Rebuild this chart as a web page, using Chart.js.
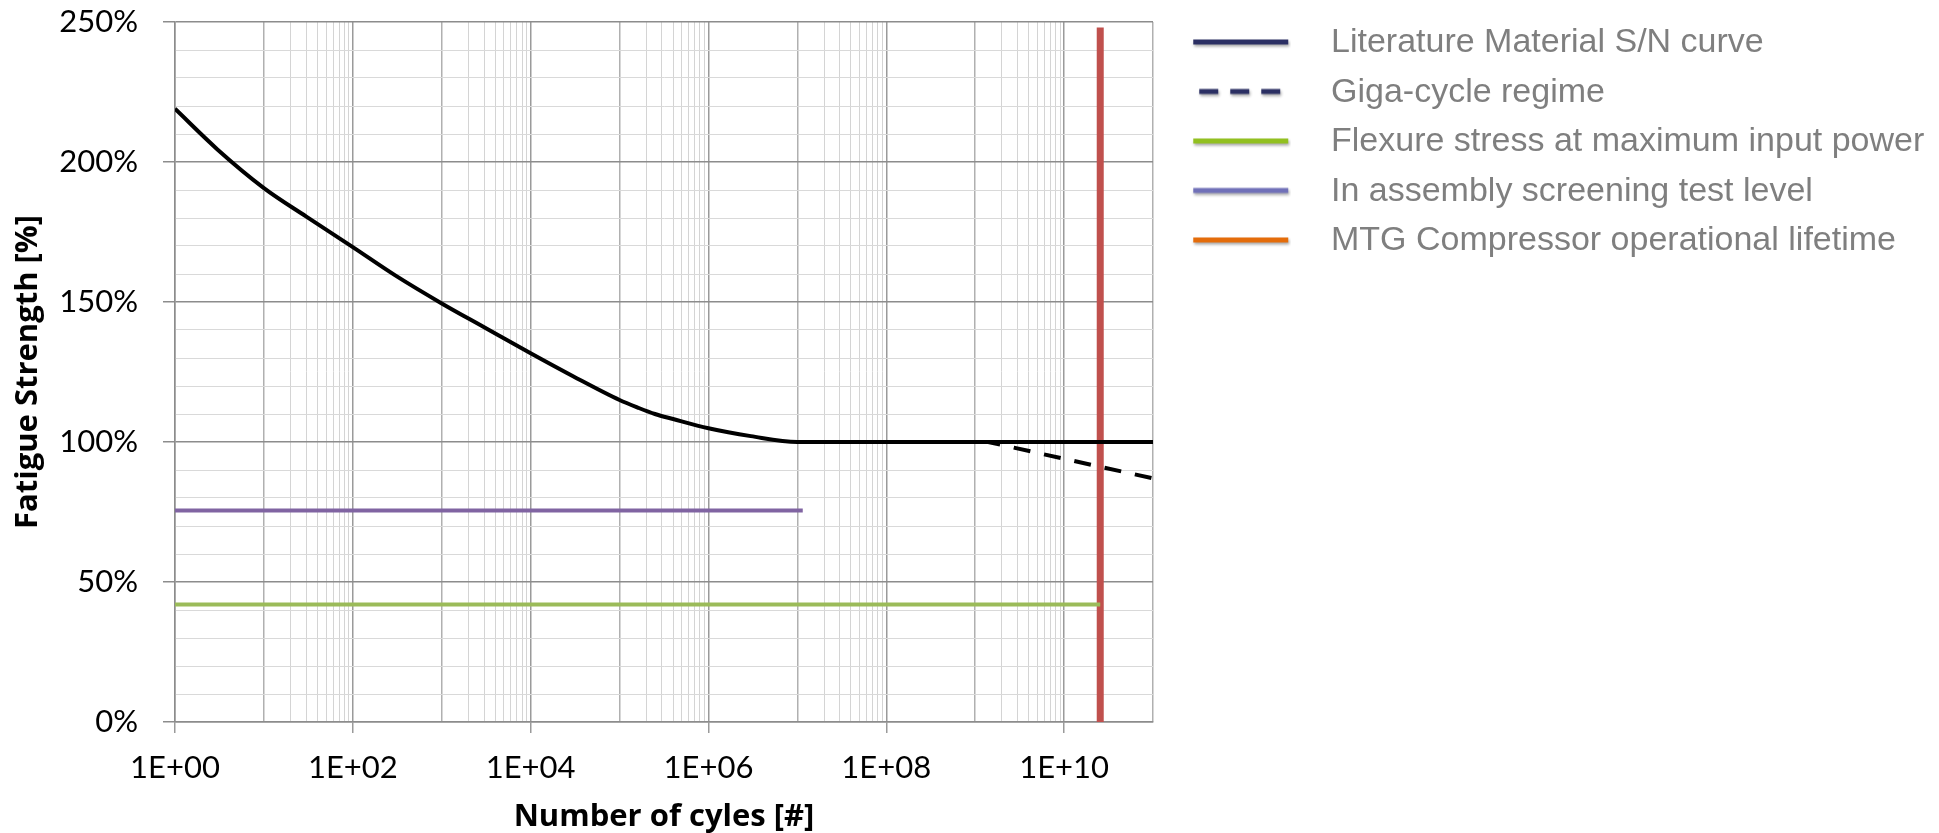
<!DOCTYPE html>
<html>
<head>
<meta charset="utf-8">
<script src="https://cdn.jsdelivr.net/npm/chart.js@4.4.1/dist/chart.umd.min.js"></script>
<style>
  body { margin: 0; background: #fff; }
  #wrap { width: 1939px; height: 833px; }
</style>
</head>
<body>
<div id="wrap"><canvas id="fatigueChart"></canvas></div>
<script>
// S/N curve (cycles -> % fatigue strength)
const snCycles = [1, 3, 10, 30, 100, 300, 1e3, 3e3, 1e4, 3e4, 1e5, 1.6e5, 2.5e5, 4e5, 1e6, 3e6, 1e7, 1e11];
const snStrength = [219, 204.5, 190.7, 180.5, 169.6, 159.5, 149.5, 141, 131.7, 123.5, 115, 112.3, 110, 108.2, 104.9, 102.1, 100, 100];

const gigaCycles = [1e7, 1.4e9, 1e11];
const gigaStrength = [100, 100, 87];

const flexureCycles = [1, 2.55e10];
const flexureStrength = [42, 42];

const screeningCycles = [1, 1.15e7];
const screeningStrength = [75.5, 75.5];

const lifetimeCycles = [2.55e10, 2.55e10];
const lifetimeStrength = [0, 248];

const legendNames = [
  "Literature Material S/N curve",
  "Giga-cycle regime",
  "Flexure stress at maximum input power",
  "In assembly screening test level",
  "MTG Compressor operational lifetime"
];
const legendColors = ["#2b2f63", "#2b2f63", "#92c020", "#7070b8", "#e46c0a"];

// x ticks: decades, plus 2..9 x 10^n in the odd decades (that is where the picture has minor lines)
const xTicks = [];
for (let n = 0; n <= 10; n++) {
  xTicks.push(Math.pow(10, n));
  if (n % 2 === 1) {
    for (let m = 2; m <= 9; m++) xTicks.push(m * Math.pow(10, n));
  }
}
xTicks.push(1e11);

function pts(xs, ys) {
  return xs.map((x, i) => ({ x: x, y: ys[i] }));
}

function decade(v) {
  const e = Math.log10(v);
  return Math.abs(e - Math.round(e)) < 1e-9 ? Math.round(e) : null;
}

function makeSwatch(color, dashed) {
  const c = document.createElement("canvas");
  c.width = 100;
  c.height = 16;
  const g = c.getContext("2d");
  g.shadowColor = "rgba(0,0,0,0.35)";
  g.shadowBlur = 3;
  g.shadowOffsetX = 1;
  g.shadowOffsetY = 2;
  g.strokeStyle = color;
  g.lineWidth = 5;
  g.beginPath();
  if (dashed) {
    g.setLineDash([19, 12]);
    g.moveTo(8, 7);
    g.lineTo(89, 7);
  } else {
    g.moveTo(2, 7);
    g.lineTo(97, 7);
  }
  g.stroke();
  return c;
}

const ctx = document.getElementById("fatigueChart");
const fatigueChart = new Chart(ctx, {
  type: "scatter",
  data: {
    datasets: [
      {
        label: legendNames[0],
        data: pts(snCycles, snStrength),
        showLine: true,
        borderColor: "#000000",
        borderWidth: 4,
        cubicInterpolationMode: "monotone",
        pointRadius: 0,
      },
      {
        label: legendNames[1],
        data: pts(gigaCycles, gigaStrength),
        showLine: true,
        borderColor: "#000000",
        borderWidth: 4,
        borderDash: [17, 14],
        pointRadius: 0,
      },
      {
        label: legendNames[2],
        data: pts(flexureCycles, flexureStrength),
        showLine: true,
        borderColor: "#9bbb59",
        borderWidth: 4,
        pointRadius: 0,
      },
      {
        label: legendNames[3],
        data: pts(screeningCycles, screeningStrength),
        showLine: true,
        borderColor: "#8064a2",
        borderWidth: 4,
        pointRadius: 0,
      },
      {
        label: legendNames[4],
        data: pts(lifetimeCycles, lifetimeStrength),
        showLine: true,
        borderColor: "#c0504d",
        borderWidth: 7,
        borderCapStyle: "butt",
        pointRadius: 0,
      },
    ],
  },
  options: {
    responsive: true,
    maintainAspectRatio: false,
    animation: false,
    layout: { padding: { top: 10.5, right: 6, bottom: 0, left: 0 } },
    plugins: {
      tooltip: { enabled: false },
      legend: {
        position: "right",
        align: "start",
        maxWidth: 780,
        labels: {
          usePointStyle: true,
          pointStyleWidth: 145.5,
          padding: 15.5,
          color: "#7f7f7f",
          font: { family: "'Liberation Sans', Arial, sans-serif", size: 34 },
          generateLabels: (chart) =>
            chart.data.datasets.map((ds, i) => ({
              text: ds.label,
              fillStyle: legendColors[i],
              strokeStyle: legendColors[i],
              lineWidth: 0,
              pointStyle: makeSwatch(legendColors[i], i === 1),
              fontColor: "#7f7f7f",
              hidden: false,
              datasetIndex: i,
            })),
        },
      },
    },
    scales: {
      x: {
        type: "logarithmic",
        min: 1,
        max: 1e11,
        afterBuildTicks: (scale) => {
          scale.ticks = xTicks.map((v) => ({ value: v }));
        },
        afterFit: (scale) => {
          scale.height = 111;
        },
        ticks: {
          autoSkip: false,
          maxRotation: 0,
          padding: 16,
          color: "#000000",
          font: { family: "Lato, sans-serif", size: 31, lineHeight: 1.2 },
          callback: (v) => {
            const e = decade(v);
            if (e === null || e % 2 !== 0 || e > 10) return "";
            return "1E+" + String(e).padStart(2, "0");
          },
        },
        grid: {
          tickLength: 11,
          color: (c) => {
            const e = decade(c.tick.value);
            if (e === null) return "#d4d4d4";
            return e % 2 === 0 ? "#9a9a9a" : "#b0b0b0";
          },
          lineWidth: (c) => (decade(c.tick.value) === null ? 1 : 1.5),
          tickColor: (c) => {
            const e = decade(c.tick.value);
            return e !== null && e % 2 === 0 && e <= 10 ? "#9a9a9a" : "rgba(0,0,0,0)";
          },
        },
        border: { color: "#8c8c8c", width: 1.5 },
        title: {
          display: true,
          text: "Number of cyles [#]",
          color: "#000000",
          padding: { top: 19, bottom: 0 },
          font: { family: "'Open Sans', sans-serif", size: 31, weight: "bold", lineHeight: 1 },
        },
      },
      y: {
        min: 0,
        max: 250,
        afterFit: (scale) => {
          scale.width = 175;
          scale.paddingTop = 22;
          scale.paddingBottom = 0;
        },
        ticks: {
          stepSize: 10,
          autoSkip: false,
          padding: 25,
          color: "#000000",
          font: { family: "Lato, sans-serif", size: 31 },
          callback: (v) => (v % 50 === 0 ? v + "%" : ""),
        },
        grid: {
          tickLength: 12,
          color: (c) => (c.tick.value % 50 === 0 ? "#8c8c8c" : "#d9d9d9"),
          lineWidth: (c) => (c.tick.value % 50 === 0 ? 1.5 : 1),
          tickColor: (c) => (c.tick.value % 50 === 0 ? "#8c8c8c" : "rgba(0,0,0,0)"),
        },
        border: { color: "#8c8c8c", width: 1.5 },
        title: {
          display: true,
          text: "Fatigue Strength [%]",
          color: "#000000",
          padding: { top: 13, bottom: 0 },
          font: { family: "'Open Sans', sans-serif", size: 31, weight: "bold", lineHeight: 1 },
        },
      },
    },
  },
});
</script>
</body>
</html>
